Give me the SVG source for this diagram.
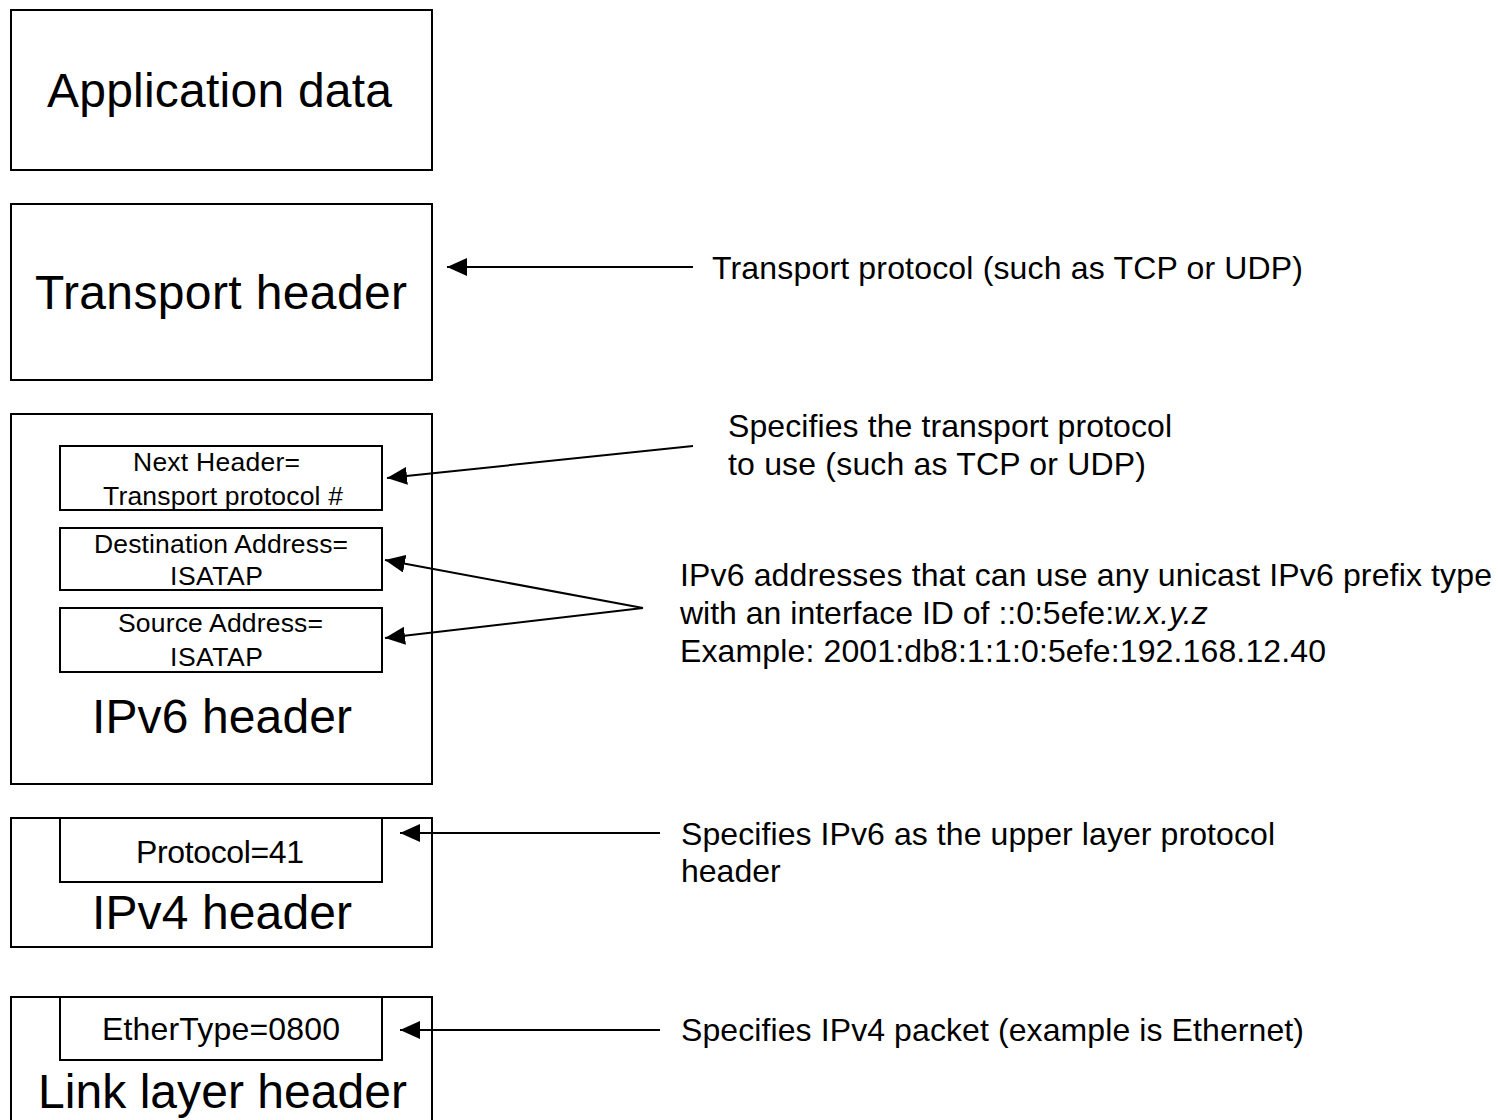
<svg xmlns="http://www.w3.org/2000/svg" width="1498" height="1120" viewBox="0 0 1498 1120">
<style>
  .box { fill: #fff; stroke: #000; stroke-width: 2; }
  .big { font-family: "Liberation Sans", Arial, sans-serif; font-size: 48px; fill: #000; text-anchor: middle; }
  .mid { font-family: "Liberation Sans", Arial, sans-serif; font-size: 32px; fill: #000; text-anchor: middle; }
  .small { font-family: "Liberation Sans", Arial, sans-serif; font-size: 26.5px; fill: #000; text-anchor: middle; }
  .note { font-family: "Liberation Sans", Arial, sans-serif; font-size: 32px; fill: #000; }
  .conn { stroke: #000; stroke-width: 2; fill: none; marker-end: url(#arrow); }
</style>
<defs>
  <marker id="arrow" markerUnits="userSpaceOnUse" markerWidth="20" markerHeight="18" refX="20" refY="9" orient="auto">
    <path d="M0,0 L20,9 L0,18 Z" fill="#000"/>
  </marker>
</defs>
<rect x="0" y="0" width="1498" height="1120" fill="#fff"/>

<g id="application-data">
  <rect class="box" x="11" y="10" width="421" height="160"/>
  <text class="big" x="219.5" y="107" textLength="345" lengthAdjust="spacing">Application data</text>
</g>

<g id="transport-header">
  <rect class="box" x="11" y="204" width="421" height="176"/>
  <text class="big" x="221" y="309" textLength="372" lengthAdjust="spacing">Transport header</text>
</g>

<g id="ipv6-header">
  <rect class="box" x="11" y="414" width="421" height="370"/>
  <text class="big" x="222" y="733" textLength="260" lengthAdjust="spacing">IPv6 header</text>
</g>

<g id="next-header">
  <rect class="box" x="60" y="446" width="322" height="64"/>
  <text class="small" x="216.5" y="471" textLength="167" lengthAdjust="spacing">Next Header=</text>
  <text class="small" x="223" y="505" textLength="240" lengthAdjust="spacing">Transport protocol #</text>
</g>

<g id="destination-address">
  <rect class="box" x="60" y="528" width="322" height="62"/>
  <text class="small" x="221" y="553" textLength="254" lengthAdjust="spacing">Destination Address=</text>
  <text class="small" x="216.5" y="585" textLength="93" lengthAdjust="spacing">ISATAP</text>
</g>

<g id="source-address">
  <rect class="box" x="60" y="608" width="322" height="64"/>
  <text class="small" x="220.5" y="632" textLength="205" lengthAdjust="spacing">Source Address=</text>
  <text class="small" x="216.5" y="666" textLength="93" lengthAdjust="spacing">ISATAP</text>
</g>

<g id="ipv4-header">
  <rect class="box" x="11" y="818" width="421" height="129"/>
  <text class="big" x="222" y="929" textLength="260" lengthAdjust="spacing">IPv4 header</text>
</g>

<g id="protocol-41">
  <rect class="box" x="60" y="818" width="322" height="64"/>
  <text class="mid" x="220" y="863" textLength="168" lengthAdjust="spacing">Protocol=41</text>
</g>

<g id="link-layer-header">
  <rect class="box" x="11" y="997" width="421" height="200"/>
  <text class="big" x="222.5" y="1108" textLength="369" lengthAdjust="spacing">Link layer header</text>
</g>

<g id="ethertype">
  <rect class="box" x="60" y="997" width="322" height="63"/>
  <text class="mid" x="221" y="1040" textLength="238" lengthAdjust="spacing">EtherType=0800</text>
</g>

<g id="connectors">
  <line class="conn" x1="693" y1="267" x2="447" y2="267"/>
  <line class="conn" x1="693" y1="446" x2="387" y2="478"/>
  <line class="conn" x1="643" y1="608" x2="385" y2="560"/>
  <line class="conn" x1="643" y1="608" x2="385" y2="638"/>
  <line class="conn" x1="660" y1="833" x2="400" y2="833"/>
  <line class="conn" x1="660" y1="1030" x2="400" y2="1030"/>
</g>

<g id="notes">
  <text class="note" x="712" y="279" textLength="591" lengthAdjust="spacing">Transport protocol (such as TCP or UDP)</text>
  <text class="note" x="728" y="437" textLength="444" lengthAdjust="spacing">Specifies the transport protocol</text>
  <text class="note" x="728" y="475" textLength="418" lengthAdjust="spacing">to use (such as TCP or UDP)</text>
  <text class="note" x="680" y="586" textLength="812" lengthAdjust="spacing">IPv6 addresses that can use any unicast IPv6 prefix type</text>
  <text class="note" x="680" y="624">with an interface ID of ::0:5efe:<tspan font-style="italic">w.x.y.z</tspan></text>
  <text class="note" x="680" y="662" textLength="646" lengthAdjust="spacing">Example: 2001:db8:1:1:0:5efe:192.168.12.40</text>
  <text class="note" x="681" y="845" textLength="594" lengthAdjust="spacing">Specifies IPv6 as the upper layer protocol</text>
  <text class="note" x="681" y="882">header</text>
  <text class="note" x="681" y="1041" textLength="623" lengthAdjust="spacing">Specifies IPv4 packet (example is Ethernet)</text>
</g>
</svg>
